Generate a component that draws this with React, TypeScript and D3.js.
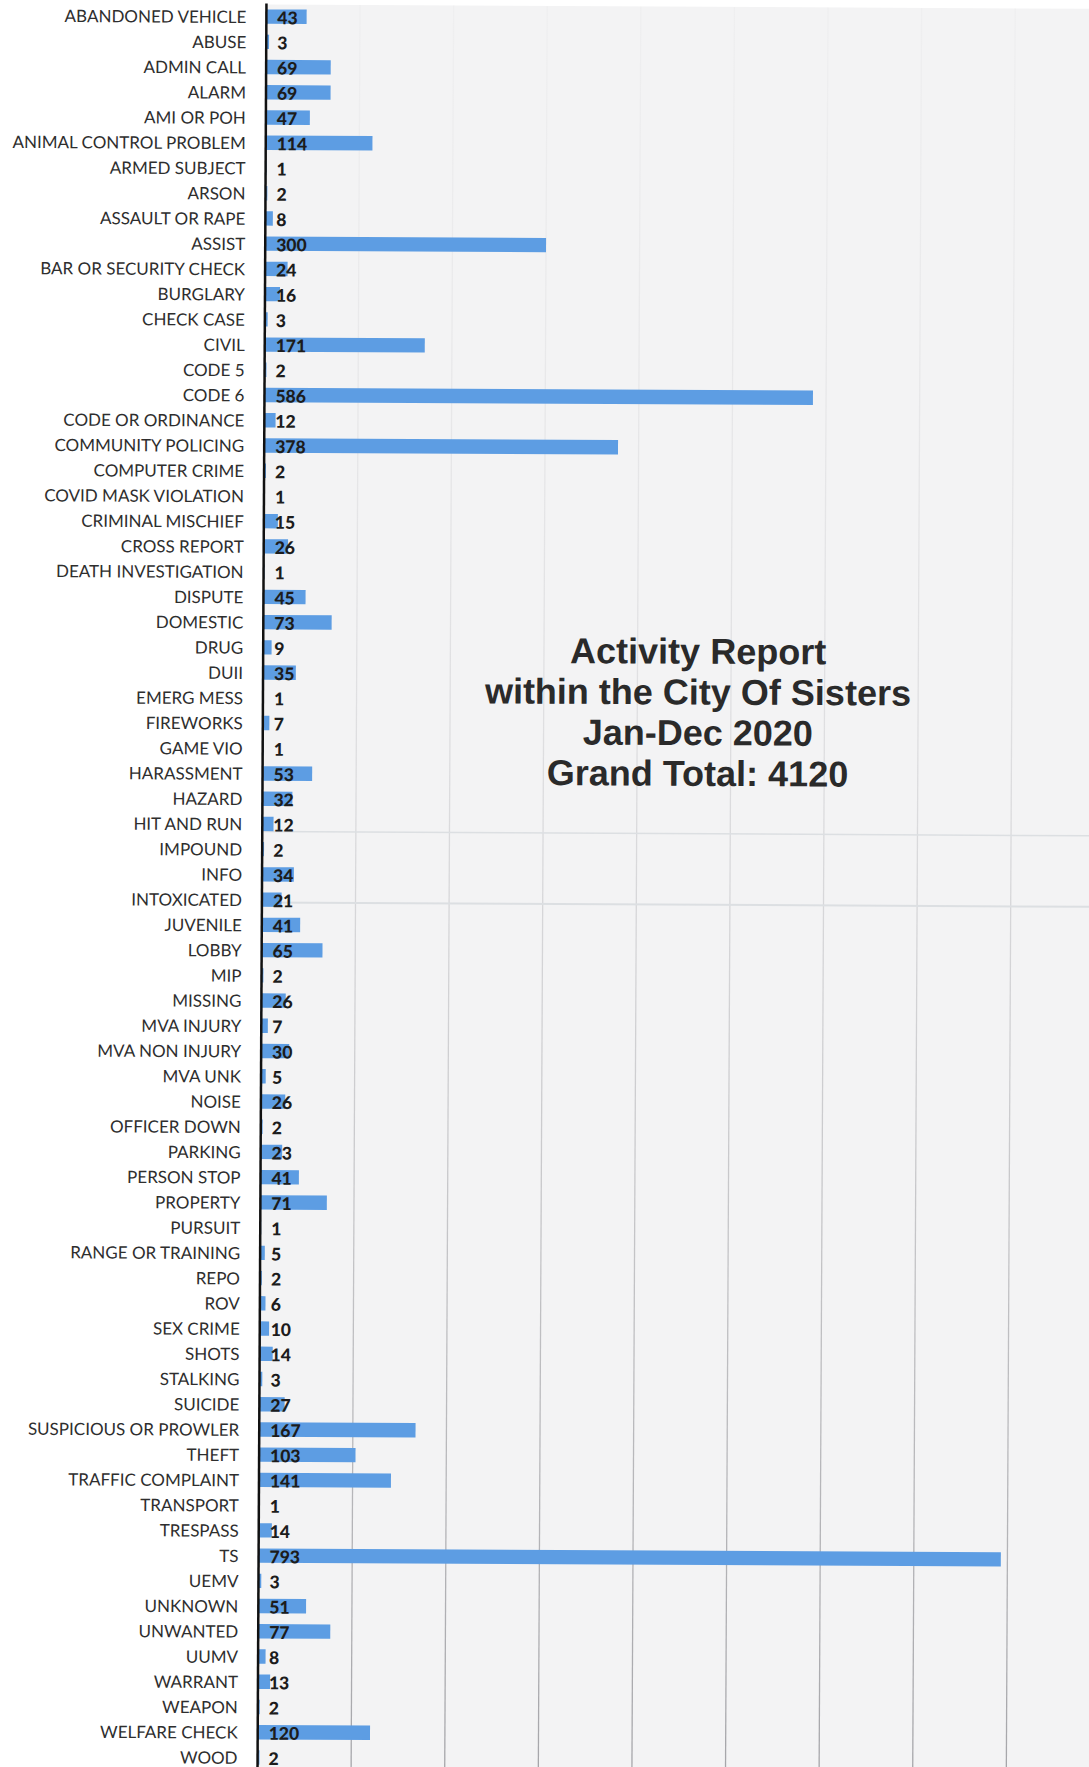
import React from 'react';
import * as d3 from 'd3';

// call types, in report order
const categories: string[] = [
  'ABANDONED VEHICLE', 'ABUSE', 'ADMIN CALL', 'ALARM', 'AMI OR POH', 'ANIMAL CONTROL PROBLEM',
  'ARMED SUBJECT', 'ARSON', 'ASSAULT OR RAPE', 'ASSIST', 'BAR OR SECURITY CHECK', 'BURGLARY',
  'CHECK CASE', 'CIVIL', 'CODE 5', 'CODE 6', 'CODE OR ORDINANCE', 'COMMUNITY POLICING',
  'COMPUTER CRIME', 'COVID MASK VIOLATION', 'CRIMINAL MISCHIEF', 'CROSS REPORT',
  'DEATH INVESTIGATION', 'DISPUTE', 'DOMESTIC', 'DRUG', 'DUII', 'EMERG MESS', 'FIREWORKS',
  'GAME VIO', 'HARASSMENT', 'HAZARD', 'HIT AND RUN', 'IMPOUND', 'INFO', 'INTOXICATED',
  'JUVENILE', 'LOBBY', 'MIP', 'MISSING', 'MVA INJURY', 'MVA NON INJURY', 'MVA UNK', 'NOISE',
  'OFFICER DOWN', 'PARKING', 'PERSON STOP', 'PROPERTY', 'PURSUIT', 'RANGE OR TRAINING', 'REPO',
  'ROV', 'SEX CRIME', 'SHOTS', 'STALKING', 'SUICIDE', 'SUSPICIOUS OR PROWLER', 'THEFT',
  'TRAFFIC COMPLAINT', 'TRANSPORT', 'TRESPASS', 'TS', 'UEMV', 'UNKNOWN', 'UNWANTED', 'UUMV',
  'WARRANT', 'WEAPON', 'WELFARE CHECK', 'WOOD',
];

const counts: number[] = [
  43, 3, 69, 69, 47, 114,
  1, 2, 8, 300, 24, 16,
  3, 171, 2, 586, 12, 378,
  2, 1, 15, 26,
  1, 45, 73, 9, 35, 1, 7,
  1, 53, 32, 12, 2, 34, 21,
  41, 65, 2, 26, 7, 30, 5, 26,
  2, 23, 41, 71, 1, 5, 2,
  6, 10, 14, 3, 27, 167, 103,
  141, 1, 14, 793, 3, 51, 77, 8,
  13, 2, 120, 2,
];

const gridTicks: number[] = [100, 200, 300, 400, 500, 600, 700, 800, 900];

const titleLines: string[] = [
  'Activity Report',
  'within the City Of Sisters',
  'Jan-Dec 2020',
  'Grand Total: 4120',
];

const W = 1089;
const H = 1767;

export default function App() {
  const axisX = 262;
  const step = 25.23;
  const top = 18 - step / 2;

  const x = d3.scaleLinear().domain([0, 900]).range([axisX, axisX + 900 * 0.936]);
  const y = d3
    .scaleBand<string>()
    .domain(categories)
    .range([top, top + step * categories.length])
    .paddingInner(0.43)
    .paddingOuter(0.215);

  const rows = categories.map((name, i) => ({ name, value: counts[i] }));

  return (
    <div style={{ position: 'absolute', left: 0, top: 0, width: W, height: H, background: '#fff' }}>
      <svg width={W} height={H} style={{ display: 'block' }}>
        <defs>
          {/* grid fades out toward the top like the scan */}
          <linearGradient id="gridFade" gradientUnits="userSpaceOnUse" x1="0" y1="0" x2="0" y2={H}>
            <stop offset="0" stopColor="#dedee0" stopOpacity={0.2} />
            <stop offset="0.4" stopColor="#cfcfd2" stopOpacity={0.55} />
            <stop offset="0.75" stopColor="#b9b9bc" stopOpacity={0.9} />
            <stop offset="1" stopColor="#a6a6aa" stopOpacity={1} />
          </linearGradient>
        </defs>
        <g transform={`rotate(0.29, ${W / 2}, ${H / 2})`}>
          {/* plot area */}
          <rect x={axisX} y={6} width={W} height={H + 20} fill="#f3f3f4" />

          {gridTicks.map(t => (
            <line
              key={t}
              x1={x(t)}
              x2={x(t)}
              y1={6}
              y2={H + 20}
              stroke="url(#gridFade)"
              strokeWidth={1.3}
            />
          ))}

          {/* faint scan streaks */}
          <line x1={axisX} x2={W + 20} y1={833} y2={833} stroke="#dcdfe2" strokeWidth={1.5} />
          <line x1={axisX} x2={W + 20} y1={904} y2={904} stroke="#dcdfe2" strokeWidth={2} />

          {rows.map(d => (
            <rect
              key={d.name}
              x={x(0)}
              y={y(d.name)}
              width={x(d.value) - x(0)}
              height={y.bandwidth()}
              fill="#5d9de3"
            />
          ))}

          <line x1={axisX} x2={axisX} y1={5} y2={H + 20} stroke="#111" strokeWidth={2.5} />

          {rows.map(d => (
            <text
              key={'c' + d.name}
              x={242}
              y={(y(d.name) ?? 0) + y.bandwidth() / 2}
              textAnchor="end"
              dominantBaseline="central"
              fontFamily="Lato, 'Open Sans', sans-serif"
              fontSize={17}
              fill="#2e2e2e"
            >
              {d.name}
            </text>
          ))}

          {rows.map(d => (
            <text
              key={'v' + d.name}
              x={axisX + 11}
              y={(y(d.name) ?? 0) + y.bandwidth() / 2 + 1}
              dominantBaseline="central"
              fontFamily="Lato, 'Open Sans', sans-serif"
              fontWeight={900}
              fontSize={17.5}
              fill="#1c1c1c"
            >
              {d.value}
            </text>
          ))}

          {titleLines.map((line, i) => (
            <text
              key={line}
              x={697}
              y={663 + i * 40.7}
              textAnchor="middle"
              fontFamily="'Liberation Sans', Arial, sans-serif"
              fontWeight="bold"
              fontSize={36}
              fill="#2a2a2a"
            >
              {line}
            </text>
          ))}
        </g>
      </svg>
    </div>
  );
}
